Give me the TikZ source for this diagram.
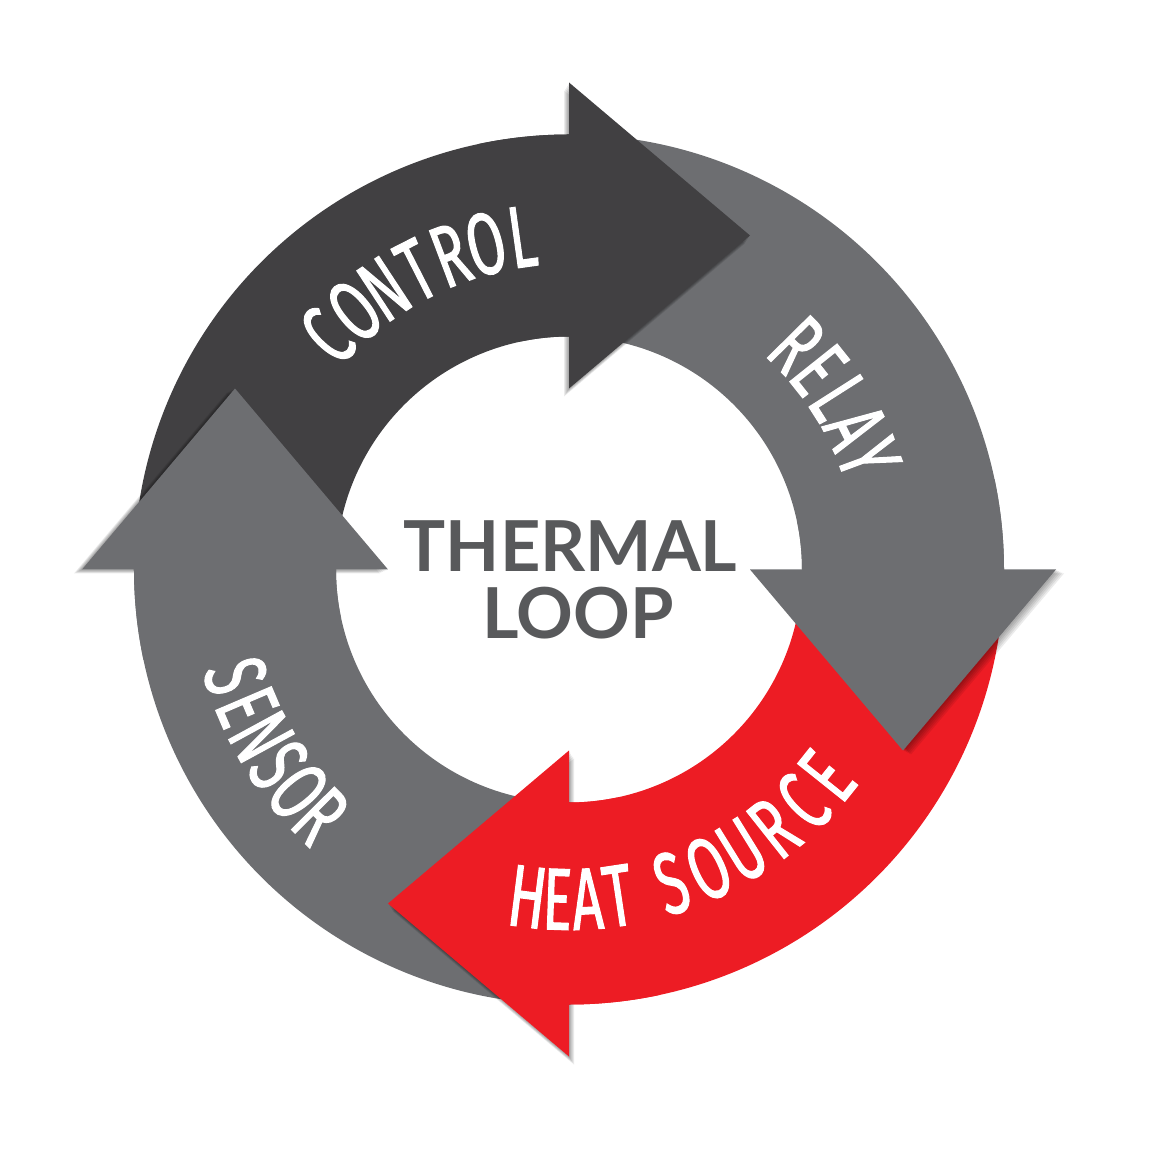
\documentclass[tikz,border=0pt]{standalone}
\usepackage{fontspec}
\usepackage{xcolor}
\newfontfamily\ringfont[FakeStretch=0.62, FakeBold=1.2]{Fira Sans}
\newfontfamily\loopfont{Lato}
\definecolor{darkring}{HTML}{414042}
\definecolor{midring}{HTML}{6D6E71}
\definecolor{heatred}{HTML}{ED1C24}
\definecolor{loopgray}{HTML}{58595B}

\begin{document}
\begin{tikzpicture}[
    ringletter/.style={
      text=white,
      font=\ringfont\fontsize{25}{26}\selectfont,
      inner sep=0pt,
      anchor=center
    },
    looptext/.style={
      text=loopgray,
      font=\loopfont\bfseries\fontsize{20}{19}\selectfont,
      anchor=base,
      inner sep=0pt
    }
  ]
    \useasboundingbox (-5.69,-5.825) rectangle (5.83,5.695);

    \foreach \a/\col in {90/darkring, 0/midring, -90/heatred, 180/midring}
      \fill[\col] (\a+90:4.35) arc[start angle=\a+90, end angle=\a-1, radius=4.35]
        -- (\a-1:2.33) arc[start angle=\a-1, end angle=\a+90, radius=2.33] -- cycle;

    \foreach \a/\col/\sx/\sy in {90/darkring/-0.05/-0.08, 0/midring/0.08/-0.04,
        -90/heatred/0.05/-0.08, 180/midring/-0.08/-0.04}
    {
      \foreach \k in {1,...,5}
        \fill[black, opacity=0.08, shift={(\k*\sx/5,\k*\sy/5)}, rotate=\a-90]
          (0,1.81) -- (0,4.87) -- (1.81,3.34) -- cycle;
      \fill[\col] (\a+12:4.35) arc[start angle=\a+12, end angle=\a-1, radius=4.35]
        -- (\a-1:2.33) arc[start angle=\a-1, end angle=\a+12, radius=2.33] -- cycle;
      \fill[\col, rotate=\a-90] (0,1.81) -- (0,4.87) -- (1.81,3.34) -- cycle;
    }

    \foreach \ch [count=\i] in {C,O,N,T,R,O,L}
      \node[ringletter, rotate=27-(\i-4)*6.33] (control-\i) at ({117-(\i-4)*6.33}:3.36) {\ch};
    \foreach \ch [count=\i] in {R,E,L,A,Y}
      \node[ringletter, rotate=-57.5-(\i-3)*6.08] (relay-\i) at ({32.5-(\i-3)*6.08}:3.2) {\ch};
    \foreach \ch/\t [count=\i] in {H/262.8, E/268.0, A/273.2, T/278.6, S/288.1,
        O/295.0, U/301.7, R/308.4, C/315.2, E/321.4}
      \node[ringletter, rotate=\t+90] (heat-\i) at (\t:3.3) {\ch};
    \foreach \ch [count=\i] in {S,E,N,S,O,R}
      \node[ringletter, rotate=301.25+(\i-3.5)*5.42] (sensor-\i) at ({211.25+(\i-3.5)*5.42}:3.5) {\ch};

    \node[looptext] (thermal) at (0.015,-0.022) {THERMAL};
    \node[looptext] (loop) at (0.09,-0.69) {LOOP};
  \end{tikzpicture}
\end{document}
